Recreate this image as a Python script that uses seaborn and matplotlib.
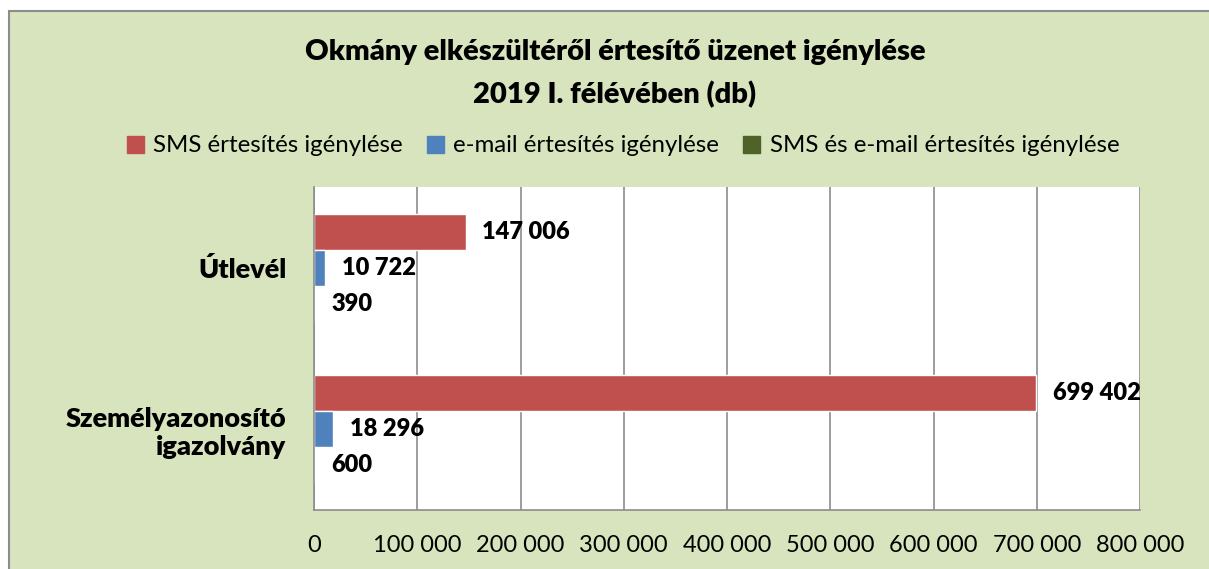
import matplotlib.pyplot as plt
import matplotlib.patches as mpatches
import seaborn as sns
import pandas as pd

# adatok
kategoriak = ['Útlevél', 'Személyazonosító\nigazolvány']
sorozatok = ['SMS értesítés igénylése', 'e-mail értesítés igénylése',
             'SMS és e-mail értesítés igénylése']
sms = [147006, 699402]
email = [10722, 18296]
mindketto = [390, 600]
x_ticks = [0, 100000, 200000, 300000, 400000, 500000, 600000, 700000, 800000]

szinek = ['#c0504d', '#4f81bd', '#4f6228']
hatter = '#d7e4bd'

rows = []
for i, kat in enumerate(kategoriak):
    for s, vals in zip(sorozatok, [sms, email, mindketto]):
        rows.append({'kategoria': kat, 'sorozat': s, 'db': vals[i]})
df = pd.DataFrame(rows)

sns.set_style('white')
plt.rcParams['font.family'] = ['Lato', 'DejaVu Sans']
plt.rcParams['text.color'] = 'black'
plt.rcParams['xtick.labelcolor'] = 'black'
plt.rcParams['ytick.labelcolor'] = 'black'

fig = plt.figure(figsize=(12.09, 5.69), dpi=100)
fig.patch.set_facecolor('white')
keret = mpatches.Rectangle((9 / 1209, -0.1), 1.2, 1 - 11 / 569 + 0.1,
                           transform=fig.transFigure, facecolor=hatter,
                           edgecolor='#8c8c8c', linewidth=1.5, zorder=-5)
fig.add_artist(keret)

ax = fig.add_axes([314 / 1209, 1 - 510 / 569, (1140 - 314) / 1209, (510 - 187) / 569])
sns.barplot(data=df, y='kategoria', x='db', hue='sorozat', order=kategoriak,
            hue_order=sorozatok, palette=szinek, width=0.67, orient='h',
            saturation=1, ax=ax, legend=False)

ax.set_facecolor('white')
ax.set_xlim(0, 800000)
ax.set_xticks(x_ticks)
ax.set_xticklabels([f'{v:,}'.replace(',', ' ') for v in x_ticks], fontsize=17)
ax.grid(axis='x', color='#8c8c8c', linewidth=1.2)
ax.set_axisbelow(True)
ax.set_xlabel('')
ax.set_ylabel('')
ax.set_yticks([0, 1])
ax.set_yticklabels(kategoriak, fontsize=19.5, fontweight='heavy')
ax.set_yticks([-0.5, 0.5, 1.5], minor=True)
ax.tick_params(axis='y', which='major', length=0, pad=20)
ax.tick_params(axis='y', which='minor', length=8, color='#8c8c8c', width=1.2)
ax.tick_params(axis='x', length=8, color='#8c8c8c', width=1.2, pad=10)
for side in ['top', 'right']:
    ax.spines[side].set_visible(False)
for side in ['left', 'bottom']:
    ax.spines[side].set_color('#8c8c8c')
    ax.spines[side].set_linewidth(1.2)

for cont in ax.containers:
    ax.bar_label(cont, labels=[f'{int(v):,}'.replace(',', ' ') for v in cont.datavalues],
                 padding=12, fontsize=17, fontweight='heavy')

fig.text(615 / 1209, 1 - 73.5 / 569,
         'Okmány elkészültéről értesítő üzenet igénylése\n2019 I. félévében (db)',
         ha='center', va='center', fontsize=21, fontweight='heavy', linespacing=1.7)

handles = [mpatches.Patch(color=c, label=s) for c, s in zip(szinek, sorozatok)]
fig.legend(handles=handles, loc='center', bbox_to_anchor=(623 / 1209, 1 - 146 / 569),
           ncol=3, frameon=False, fontsize=17.3, handlelength=0.7, handleheight=0.7,
           handletextpad=0.4, columnspacing=1.0)

fig.savefig('out.png', dpi=100, facecolor=fig.get_facecolor())
